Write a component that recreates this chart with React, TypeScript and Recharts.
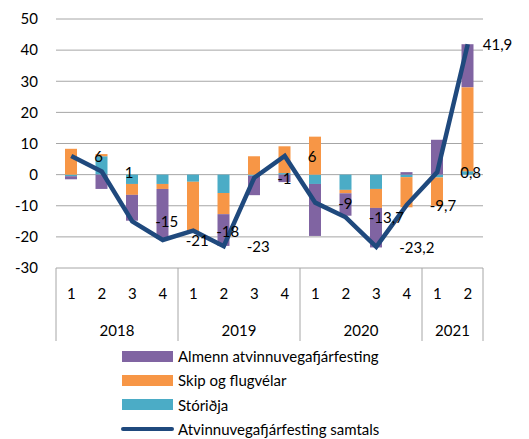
import { ComposedChart, Bar, Line, XAxis, YAxis, CartesianGrid, LabelList } from "recharts"

const C_ALMENN = "#8064A2"
const C_SKIP = "#F79646"
const C_STORIDJA = "#4BACC6"
const C_TOTAL = "#1F497D"
const C_GRID = "#A6A6A6"
const FONT = "Lato, 'Open Sans', sans-serif"

const QUARTERS = ["1", "2", "3", "4", "1", "2", "3", "4", "1", "2", "3", "4", "1", "2"]
const YEARS = ["2018", "2018", "2018", "2018", "2019", "2019", "2019", "2019", "2020", "2020", "2020", "2020", "2021", "2021"]

const ALMENN = [-1.0, -4.6, -8.3, -16.1, -0.2, -10.2, -6.2, -2.4, -16.7, -7.2, -12.7, 0.8, 11.2, 13.8]
const SKIP = [8.3, 0.7, -3.5, -1.6, -15.9, -6.8, 5.9, 8.6, 12.2, -1.1, -6.1, -9.7, -9.1, 27.0]
const STORIDJA = [-0.5, 5.9, -3.0, -3.0, -2.3, -5.9, -0.4, 0.5, -3.0, -4.9, -4.6, -0.8, -0.9, 1.1]
const TOTAL = [6, 1, -15, -21, -18, -23, -1, 6, -9, -13.7, -23.2, -9.7, 0.8, 41.9]

const Y_TICKS = [-30, -20, -10, 0, 10, 20, 30, 40, 50]

const LEGEND = [
  { name: "Almenn atvinnuvegafjárfesting", color: C_ALMENN, kind: "bar" },
  { name: "Skip og flugvélar", color: C_SKIP, kind: "bar" },
  { name: "Stóriðja", color: C_STORIDJA, kind: "bar" },
  { name: "Atvinnuvegafjárfesting samtals", color: C_TOTAL, kind: "line" },
]

const data = QUARTERS.map((q, i) => ({
  key: `${YEARS[i]}-${q}`,
  almenn: ALMENN[i],
  skip: SKIP[i],
  storidja: STORIDJA[i],
  total: TOTAL[i],
}))

const fmt = (v: number) => String(v).replace(".", ",")

function CategoryTick(props: any) {
  const { x, y, payload } = props
  const i: number = payload.index
  const half: number = payload.offset ?? 15.25
  const first = i === 0 || YEARS[i] !== YEARS[i - 1]
  const last = i === YEARS.length - 1
  const n = YEARS.filter((yr) => yr === YEARS[i]).length
  return (
    <g>
      <text x={x} y={y + 25} textAnchor="middle" dominantBaseline="central" fontSize={15} fontFamily={FONT} fill="#000">
        {QUARTERS[i]}
      </text>
      {first && (
        <>
          <line x1={x - half} x2={x - half} y1={y} y2={y + 73} stroke={C_GRID} />
          <text x={x - half + half * n} y={y + 62} textAnchor="middle" dominantBaseline="central" fontSize={15} fontFamily={FONT} fill="#000">
            {YEARS[i]}
          </text>
        </>
      )}
      {last && <line x1={x + half} x2={x + half} y1={y} y2={y + 73} stroke={C_GRID} />}
    </g>
  )
}

function TotalLabel(props: any) {
  const { x, y, value, index } = props
  const dx = index === TOTAL.length - 1 ? 15 : 23
  return (
    <text x={x + dx} y={y} dominantBaseline="central" fontSize={15} fontFamily={FONT} fill="#000">
      {fmt(Number(value))}
    </text>
  )
}

export default function App() {
  return (
    <div style={{ position: "absolute", left: 0, top: 0, width: 529, height: 439, background: "#fff", fontFamily: FONT }}>
      <ComposedChart
        width={529}
        height={350}
        data={data}
        stackOffset="sign"
        margin={{ top: 19, right: 46, bottom: 0, left: 0 }}
      >
        <CartesianGrid vertical={false} stroke={C_GRID} />
        <XAxis
          dataKey="key"
          interval={0}
          axisLine={false}
          tickLine={false}
          tickSize={0}
          tickMargin={0}
          height={82}
          tick={<CategoryTick />}
        />
        <YAxis
          domain={[-30, 50]}
          ticks={Y_TICKS}
          axisLine={false}
          tickLine={false}
          tickSize={0}
          tickMargin={18}
          width={56}
          tick={{ fontSize: 15, fill: "#000", fontFamily: FONT }}
        />
        <Bar dataKey="storidja" stackId="a" fill={C_STORIDJA} barSize={12} isAnimationActive={false} />
        <Bar dataKey="skip" stackId="a" fill={C_SKIP} barSize={12} isAnimationActive={false} />
        <Bar dataKey="almenn" stackId="a" fill={C_ALMENN} barSize={12} isAnimationActive={false} />
        <Line
          dataKey="total"
          type="linear"
          stroke={C_TOTAL}
          strokeWidth={4.5}
          dot={false}
          activeDot={false}
          isAnimationActive={false}
        >
          <LabelList dataKey="total" content={<TotalLabel />} />
        </Line>
      </ComposedChart>
      {LEGEND.map((item, i) => (
        <div
          key={item.name}
          style={{ position: "absolute", left: 122, top: 356 + i * 24.4 - 10, height: 20, display: "flex", alignItems: "center", fontSize: 15, color: "#000" }}
        >
          {item.kind === "bar" ? (
            <div style={{ width: 51, height: 11, background: item.color }} />
          ) : (
            <div style={{ width: 53, height: 4.5, marginLeft: -1, background: item.color, borderRadius: 3 }} />
          )}
          <span style={{ marginLeft: item.kind === "bar" ? 5 : 4, whiteSpace: "nowrap" }}>{item.name}</span>
        </div>
      ))}
    </div>
  )
}
